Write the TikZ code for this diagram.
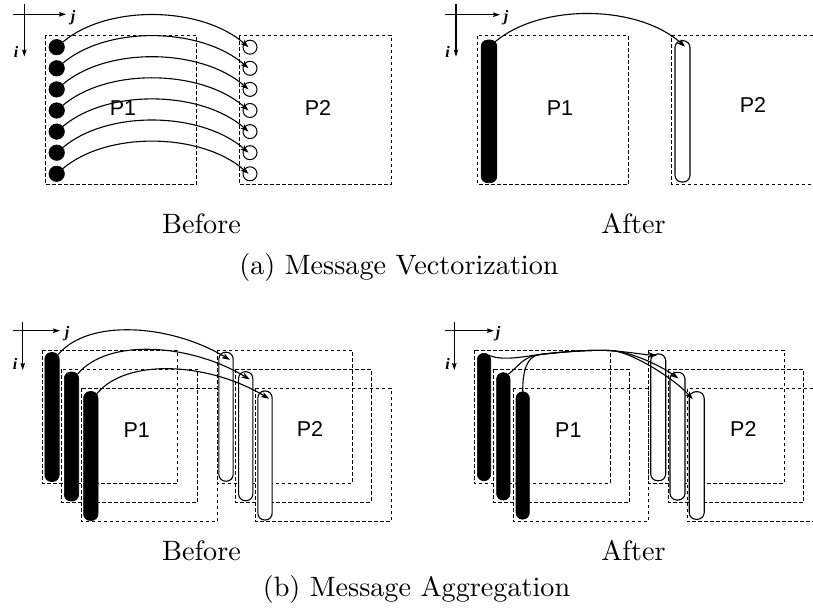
\documentclass[tikz,border=0pt]{standalone}
\usepackage{fontspec}
\usepackage{graphicx}
\newfontfamily\helv{Liberation Sans}
\newfontfamily\tms{Liberation Serif}
\usetikzlibrary{arrows.meta}
\newcommand\captext[1]{\scalebox{2.82}[2.8]{\fontsize{10}{12}\selectfont #1}}
\begin{document}
\begin{tikzpicture}[x=1pt,y=-1pt,
  box/.style={draw, dash pattern=on 3.5pt off 2.5pt, line width=0.95pt},
  dotf/.style={circle, draw, fill=black, inner sep=0, minimum size=15.5pt, line width=0.6pt},
  doto/.style={circle, draw, fill=white, inner sep=0, minimum size=14pt, line width=1pt},
  fbar/.style={rectangle, draw, fill=black, rounded corners=6.5pt, inner sep=0, outer sep=0, minimum width=14.4pt, line width=0.6pt},
  obar/.style={rectangle, draw, fill=white, rounded corners=6.8pt, inner sep=0, outer sep=0, minimum width=14.3pt, line width=1.1pt},
  arr/.style={line width=1.1pt, -{Stealth[length=8pt,width=5.5pt,inset=1.8pt]}},
  axis/.style={line width=1.1pt, -{Stealth[length=7pt,width=4.5pt,inset=1.2pt]}},
  plab/.style={font=\helv\fontsize{21.5}{24}\selectfont, inner sep=0},
  ijlab/.style={font=\tms\bfseries\itshape\fontsize{16}{18}\selectfont, inner sep=0},
  captxt/.style={inner sep=0, anchor=base}
]
\useasboundingbox (0,0) rectangle (813,608);

% ================= (a) Before =================
\coordinate (aBh1) at (13.3,14.3); \coordinate (aBh2) at (66,14.3);
\coordinate (aBv1) at (24.3,4); \coordinate (aBv2) at (24.3,56.5);
\draw[axis] (aBh1) -- (aBh2);
\draw[axis] (aBv1) -- (aBv2);
\node[ijlab] (aBj) at (73,18) {j};
\node[ijlab] (aBi) at (16,51.5) {i};

\draw[box] (45.7,35) rectangle (196.7,184.3);
\draw[box] (239.3,35) rectangle (391,184.3);
\node[plab] (aBP1) at (123,108) {P1};
\node[plab] (aBP2) at (318,108) {P2};
\foreach \k in {0,...,6} {
  \pgfmathsetmacro\yy{47.2+21.1*\k}
  \node[dotf] (af\k) at (56.7,\yy) {};
  \node[doto] (ao\k) at (250,\yy) {};
}
\foreach \k in {0,...,6} {
  \draw[arr] (af\k.40) .. controls +(45,-38) and +(-47,-41) .. ([xshift=-1.5pt]ao\k.center);
}

% ================= (a) After =================
\coordinate (aAh1) at (445,14.7); \coordinate (aAh2) at (500,14.7);
\coordinate (aAv1) at (456,4); \coordinate (aAv2) at (456,56.7);
\draw[axis] (aAh1) -- (aAh2);
\draw[axis] (aAv1) -- (aAv2);
\node[ijlab] (aAj) at (506,18) {j};
\node[ijlab] (aAi) at (447.5,51.7) {i};

\draw[box] (477.7,35.7) rectangle (628.3,184.3);
\draw[box] (813,35.7) -- (671.7,35.7) -- (671.7,184.3) -- (813,184.3);
\node[plab] (aAP1) at (560,108) {P1};
\node[plab] (aAP2) at (753,105) {P2};
\node[fbar, minimum width=15.7pt, minimum height=142.7pt] (aFA) at (489,111.35) {};
\node[obar, minimum width=15pt, minimum height=141.3pt] (aOA) at (682.5,111.35) {};
\draw[arr] ([shift={(-2,2)}]aFA.north east) .. controls +(46,-39) and +(-47,-42) .. ([shift={(2.5,6)}]aOA.north);

\node[captxt] (capBa) at (201.5,233) {\captext{Before}};
\node[captxt] (capAa) at (633.5,233) {\captext{After}};
\node[captxt] (capa) at (399,274) {\captext{(a) Message Vectorization}};

% ================= (b) Before =================
\coordinate (bBh1) at (13.3,330.7); \coordinate (bBh2) at (60,330.7);
\coordinate (bBv1) at (22.7,321.7); \coordinate (bBv2) at (22.7,370);
\draw[axis] (bBh1) -- (bBh2);
\draw[axis] (bBv1) -- (bBv2);
\node[ijlab] (bBj) at (67,334) {j};
\node[ijlab] (bBi) at (15,364) {i};

\draw[box] (42.3,350) rectangle (177.7,483.3);
\draw[box] (61.7,369) rectangle (197.7,502.3);
\draw[box] (81,388.3) rectangle (217,521.7);
\draw[box] (217,350) rectangle (352.3,483.3);
\draw[box] (235.7,369) rectangle (371,502.3);
\draw[box] (255.7,388.3) rectangle (391,521.7);
\node[plab] (bBP1) at (136.7,430) {P1};
\node[plab] (bBP2) at (310,429.3) {P2};
\node[fbar, minimum height=129pt] (bf1) at (52,417) {};
\node[fbar, minimum height=129pt] (bf2) at (71.5,436.5) {};
\node[fbar, minimum height=129pt] (bf3) at (90.8,456) {};
\node[obar, minimum height=129pt] (bo1) at (226,416.7) {};
\node[obar, minimum height=129pt] (bo2) at (245.7,436.2) {};
\node[obar, minimum height=129pt] (bo3) at (265,455.5) {};
\foreach \k in {1,2,3} {
  \draw[arr] ([shift={(-1,2)}]bf\k.north east) .. controls +(30,-36) and +(-60,-36) .. ([shift={(4,7.7)}]bo\k.north);
}

% ================= (b) After =================
\coordinate (bAh1) at (445,330.7); \coordinate (bAh2) at (494,330.7);
\coordinate (bAv1) at (454.3,321.7); \coordinate (bAv2) at (454.3,370);
\draw[axis] (bAh1) -- (bAh2);
\draw[axis] (bAv1) -- (bAv2);
\node[ijlab] (bAj) at (498,334) {j};
\node[ijlab] (bAi) at (447.5,364) {i};

\draw[box] (474,350) rectangle (610,483.3);
\draw[box] (493.3,369) rectangle (629.3,502.3);
\draw[box] (513.3,388.3) rectangle (648.3,521.7);
\draw[box] (648.3,350) rectangle (784,483.3);
\draw[box] (668.3,369) rectangle (803.3,502.3);
\draw[box] (813,388.3) -- (687.3,388.3) -- (687.3,521.7) -- (813,521.7);
\node[plab] (bAP1) at (568.3,430) {P1};
\node[plab] (bAP2) at (743.3,429.3) {P2};
\node[fbar, minimum width=13.4pt, minimum height=127.4pt] (cf1) at (484,417) {};
\node[fbar, minimum width=13.4pt, minimum height=127.4pt] (cf2) at (503.3,436.35) {};
\node[fbar, minimum width=13.4pt, minimum height=127.4pt] (cf3) at (522.7,455.5) {};
\node[obar, minimum width=15pt, minimum height=126.7pt] (co1) at (658.2,417.35) {};
\node[obar, minimum width=15pt, minimum height=127.7pt] (co2) at (677.5,436.15) {};
\node[obar, minimum width=15pt, minimum height=127.6pt] (co3) at (696.7,455.5) {};
\coordinate (mg) at (540,354.5);
\coordinate (dv) at (613,350.8);
\draw[arr] ([shift={(-1.7,2)}]cf1.north east) .. controls +(14,6) and +(-16,1.9) .. (mg)
   .. controls +(24,-2.9) and +(-18,-1.5) .. (dv)
   .. controls +(18,1.5) and +(-12,-0.8) .. ([shift={(-1.5,1.5)}]co1.north);
\draw[arr] ([shift={(-1.5,1.5)}]cf2.north east) .. controls +(12,-10) and +(-16,1.9) .. (mg)
   .. controls +(24,-2.9) and +(-18,-1.5) .. (dv)
   .. controls +(18,1.5) and +(-20,-14) .. ([shift={(0.8,6)}]co2.north);
\draw[arr] (cf3.north) .. controls +(0,-20) and +(-14,1.7) .. (mg)
   .. controls +(24,-2.9) and +(-18,-1.5) .. (dv)
   .. controls +(18,1.5) and +(-20,-22) .. ([shift={(-4,7.5)}]co3.north);

\node[captxt] (capBb) at (201.5,560.7) {\captext{Before}};
\node[captxt] (capAb) at (633.5,560.7) {\captext{After}};
\node[captxt] (capb) at (416.5,596) {\captext{(b) Message Aggregation}};
\end{tikzpicture}
\end{document}
